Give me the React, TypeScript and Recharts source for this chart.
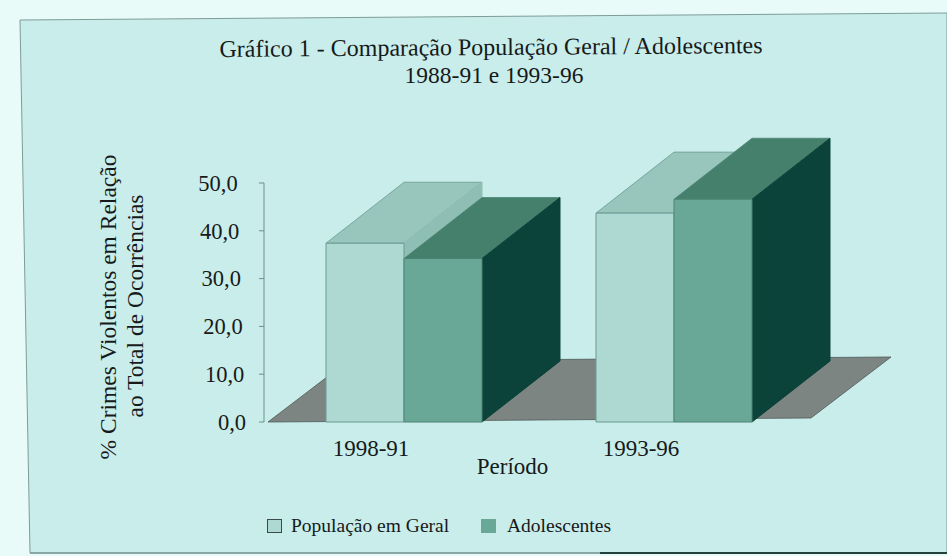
import { BarChart, Bar, XAxis, YAxis, Legend, Customized, usePlotArea } from 'recharts';

const periods = ['1998-91', '1993-96'];
const populacao = [37.4, 43.7];
const adolescentes = [34.2, 46.6];
const yTicks = [0, 10, 20, 30, 40, 50];

const titleLines = ['Gráfico 1 - Comparação População Geral / Adolescentes', '1988-91 e 1993-96'];
const yLabelLines = ['% Crimes Violentos em Relação', 'ao Total de Ocorrências'];

const chartData = periods.map((periodo, i) => ({
  periodo,
  populacao: populacao[i],
  adolescentes: adolescentes[i],
}));

const FONT = '"Liberation Serif", serif';
const INK = '#161a1a';
const DEPTH_X = 78;
const DEPTH_Y = -61;
// the scan is slightly rotated, so the tick labels drift left going up
const TICK_DRIFT = 0.035;

const popColors = { front: '#aed8d2', top: '#98c6bd', side: '#8fbfb4', line: '#6b9a92' };
const adoColors = { front: '#69a896', top: '#45806c', side: '#0b4239', line: '#4b8473' };

function pts(list: number[][]) {
  return list.map((p) => p.join(',')).join(' ');
}

function box3D(colors: typeof popColors) {
  return function Box(props: any) {
    const { x, y, width, height } = props;
    const r = x + width;
    const b = y + height;
    return (
      <g strokeLinejoin="round">
        <polygon
          points={pts([[x, y], [x + DEPTH_X, y + DEPTH_Y], [r + DEPTH_X, y + DEPTH_Y], [r, y]])}
          fill={colors.top}
          stroke={colors.line}
          strokeWidth={0.8}
        />
        <polygon
          points={pts([[r, y], [r + DEPTH_X, y + DEPTH_Y], [r + DEPTH_X, b + DEPTH_Y], [r, b]])}
          fill={colors.side}
          stroke={colors.side}
        />
        <rect x={x} y={y} width={width} height={height} fill={colors.front} stroke={colors.line} />
      </g>
    );
  };
}

function YTick(props: any) {
  const { x, y, payload, tickFormatter } = props;
  const bottom = 422;
  const label = tickFormatter ? tickFormatter(payload.value) : payload.value;
  return (
    <text
      x={x - (bottom - y) * TICK_DRIFT}
      y={y}
      dy="0.35em"
      textAnchor="end"
      fontSize={22.5}
      fontFamily={FONT}
      fill={INK}
    >
      {label}
    </text>
  );
}

function Backdrop() {
  const plot = usePlotArea();
  if (!plot) return null;
  const bottom = plot.y + plot.height;
  const left = plot.x + 4;
  const right = plot.x + plot.width;
  const tilt = 4;
  return (
    <g>
      <polygon points="20,20 947,13 947,553 30,553" fill="#c9edea" stroke="#7d9c98" strokeWidth={1} />
      <line x1={30} y1={553} x2={600} y2={553} stroke="#7d9c98" strokeWidth={1.5} />
      <line x1={600} y1={553} x2={947} y2={553} stroke="#24403c" strokeWidth={2} />
      <polygon
        points={pts([
          [left, bottom],
          [right + 2, bottom - tilt],
          [right + 82, bottom + DEPTH_Y - tilt],
          [left + 80, bottom + DEPTH_Y],
        ])}
        fill="#7d8582"
        stroke="#4d5a58"
        strokeWidth={0.8}
      />
    </g>
  );
}

function Captions() {
  return (
    <g fontFamily={FONT} fill={INK}>
      <text x={491} y={55} textAnchor="middle" fontSize={24} transform="rotate(-0.4 491 55)">{titleLines[0]}</text>
      <text x={494} y={83} textAnchor="middle" fontSize={23.5}>{titleLines[1]}</text>
      <text transform="translate(116,307) rotate(-90)" textAnchor="middle" fontSize={23.5}>{yLabelLines[0]}</text>
      <text transform="translate(143,306) rotate(-90)" textAnchor="middle" fontSize={23.5}>{yLabelLines[1]}</text>
    </g>
  );
}

function LegendContent() {
  const items = [
    { label: 'População em Geral', fill: popColors.front, stroke: '#3a4a48', w: 214, gap: 9 },
    { label: 'Adolescentes', fill: adoColors.front, stroke: adoColors.front, w: 140, gap: 11 },
  ];
  return (
    <div style={{ display: 'flex', fontFamily: FONT, fontSize: 19.5, color: INK, lineHeight: '20px' }}>
      {items.map((it) => (
        <div key={it.label} style={{ display: 'flex', alignItems: 'center', width: it.w, whiteSpace: 'nowrap' }}>
          <span
            style={{
              display: 'inline-block',
              width: 15,
              height: 14,
              marginRight: it.gap,
              background: it.fill,
              border: `1px solid ${it.stroke}`,
              boxSizing: 'border-box',
            }}
          />
          {it.label}
        </div>
      ))}
    </div>
  );
}

export default function App() {
  return (
    <div style={{ position: 'absolute', left: 0, top: 0, width: 947, height: 556, background: '#e8fbf9' }}>
      <BarChart
        width={947}
        height={556}
        data={chartData}
        margin={{ top: 183, right: 138, bottom: 74, left: 0 }}
        barGap={0}
        barSize={78}
      >
        <Customized component={Backdrop} />
        <XAxis
          dataKey="periodo"
          axisLine={false}
          tickLine={false}
          height={60}
          padding={{ left: 5, right: 0 }}
          tick={{ fill: INK, fontSize: 23, fontFamily: FONT, dx: -33 }}
          tickMargin={12}
          label={{ value: 'Período', position: 'insideBottom', offset: 8, dx: -24, fontSize: 23, fontFamily: FONT, fill: INK }}
        />
        <YAxis
          width={264}
          domain={[0, 50]}
          ticks={yTicks}
          interval={0}
          tickFormatter={(v: number) => v.toFixed(1).replace('.', ',')}
          axisLine={{ stroke: '#6f8f8a' }}
          tickLine={{ stroke: '#6f8f8a' }}
          tickSize={5}
          tickMargin={13}
          tick={YTick}
        />
        <Bar dataKey="populacao" name="População em Geral" shape={box3D(popColors)} isAnimationActive={false} />
        <Bar dataKey="adolescentes" name="Adolescentes" shape={box3D(adoColors)} isAnimationActive={false} />
        <Customized component={Captions} />
        <Legend
          layout="horizontal"
          verticalAlign="middle"
          align="center"
          wrapperStyle={{ left: 267, top: 516, width: 420 }}
          content={LegendContent}
        />
      </BarChart>
    </div>
  );
}
